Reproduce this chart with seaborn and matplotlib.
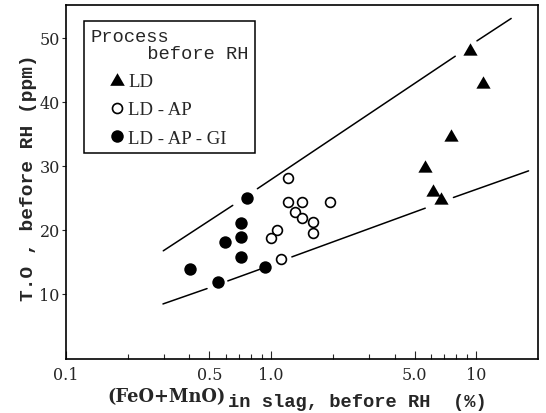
import numpy as np
import pandas as pd
import matplotlib
matplotlib.use("Agg")
import matplotlib.pyplot as plt
import seaborn as sns
from matplotlib.lines import Line2D
from matplotlib.legend_handler import HandlerLine2D
from matplotlib.font_manager import FontProperties

# ---------------- data ----------------
ld_x = [9.28, 10.73, 7.55, 5.60, 6.12, 6.73]
ld_y = [48.2, 43.1, 34.8, 30.0, 26.2, 25.0]
ldap_x = [1.215, 1.215, 1.411, 1.926, 1.309, 1.411, 1.609, 1.609, 1.066, 0.996, 1.115]
ldap_y = [28.0, 24.25, 24.4, 24.34, 22.8, 21.75, 21.2, 19.56, 19.97, 18.72, 15.4]
ldapgi_x = [0.766, 0.711, 0.711, 0.597, 0.711, 0.935, 0.403, 0.549]
ldapgi_y = [24.9, 21.1, 18.9, 18.0, 15.7, 14.1, 13.8, 11.85]

upper_seg_x = [[0.298, 0.650], [0.857, 7.90], [10.08, 14.8]]
upper_seg_y = [[16.7, 23.8], [26.4, 47.1], [49.5, 53.0]]
lower_seg_x = [[0.297, 0.487], [0.615, 0.884], [1.262, 5.64], [7.74, 17.99]]
lower_seg_y = [[8.4, 10.8], [12.0, 13.83], [15.75, 23.36], [25.03, 29.19]]

process_labels = ["LD", "LD - AP", "LD - AP - GI"]
legend_title = "Process\n     before RH"
x_major = [0.1, 0.5, 1.0, 5.0, 10]
x_major_labels = ["0.1", "0.5", "1.0", "5.0", "10"]
x_minor = [0.2, 0.3, 0.4, 0.6, 0.7, 0.8, 0.9, 2, 3, 4, 6, 7, 8, 9]
y_ticks = [10, 20, 30, 40, 50]
y_ticklabels = ["10", "20", "30", "40", "50"]
ylabel_text = "T.O , before RH (ppm)"
xlabel_main = "(FeO+MnO)"
xlabel_sub = "in slag, before RH  (%)"

# ---------------- style ----------------
sns.set_style("ticks")
plt.rcParams["font.family"] = ["DejaVu Serif"]

TRI = [(0, 0.5), (-0.577, -0.5), (0.577, -0.5)]

fig = plt.figure(figsize=(5.46, 4.14), dpi=100)
W, H = 546, 414
ax = fig.add_axes([66 / W, 1 - 360 / H, (538 - 66) / W, (360 - 6) / H])

# reference lines (broken around markers)
for xs, ys in zip(upper_seg_x, upper_seg_y):
    sns.lineplot(x=xs, y=ys, ax=ax, color="black", linewidth=1.1, estimator=None, sort=False)
for xs, ys in zip(lower_seg_x, lower_seg_y):
    sns.lineplot(x=xs, y=ys, ax=ax, color="black", linewidth=1.1, estimator=None, sort=False)

df_ld = pd.DataFrame({"x": ld_x, "y": ld_y})
df_ap = pd.DataFrame({"x": ldap_x, "y": ldap_y})
df_gi = pd.DataFrame({"x": ldapgi_x, "y": ldapgi_y})

sns.scatterplot(data=df_ld, x="x", y="y", ax=ax, marker=TRI, s=105,
                color="black", edgecolor="black", linewidth=0, zorder=5)
sns.scatterplot(data=df_ap, x="x", y="y", ax=ax, marker="o", s=50,
                color="white", edgecolor="black", linewidth=1.2, zorder=5)
sns.scatterplot(data=df_gi, x="x", y="y", ax=ax, marker="o", s=80,
                color="black", edgecolor="black", linewidth=0, zorder=5)

ax.set_xscale("log")
ax.set_xlim(0.1, 20)
ax.set_ylim(-0.2, 55.1)

ax.set_xticks(x_major)
ax.set_xticklabels(x_major_labels)
ax.set_xticks(x_minor, minor=True)
ax.set_xticklabels([], minor=True)
ax.set_yticks(y_ticks)
ax.set_yticklabels(y_ticklabels)
ax.tick_params(axis="x", which="major", direction="in", length=5.5, width=0.8,
               labelsize=11.5, pad=5)
ax.tick_params(axis="x", which="minor", direction="in", length=3.5, width=0.8)
ax.tick_params(axis="y", which="major", direction="out", length=3, width=0.8,
               labelsize=11.5, pad=1.5)
ax.tick_params(axis="y", which="minor", length=0)

for sp in ax.spines.values():
    sp.set_linewidth(1.2)
    sp.set_color("black")

ax.set_xlabel("")
ax.set_ylabel(ylabel_text, fontfamily="Liberation Mono", fontweight="bold", fontsize=14)
ax.yaxis.set_label_coords(-0.062, 0.514)

fig.text(107 / W, 1 - 402.5 / H, xlabel_main, fontfamily="DejaVu Serif",
         fontweight="bold", fontsize=12.8, ha="left", va="baseline")
fig.text(228 / W, 1 - 407 / H, xlabel_sub, fontfamily="Liberation Mono",
         fontweight="bold", fontsize=13.5, ha="left", va="baseline")

# legend
handles = [
    Line2D([], [], linestyle="none", marker=TRI, markersize=10.5,
           markerfacecolor="black", markeredgecolor="black", markeredgewidth=0),
    Line2D([], [], linestyle="none", marker="o", markersize=7.2,
           markerfacecolor="white", markeredgecolor="black", markeredgewidth=1.2),
    Line2D([], [], linestyle="none", marker="o", markersize=9,
           markerfacecolor="black", markeredgecolor="black", markeredgewidth=0),
]
leg = ax.legend(handles, process_labels, title=legend_title,
                loc="upper left", bbox_to_anchor=((84 - 66) / 472, (360 - 22) / 354),
                borderaxespad=0, frameon=True, fancybox=False, framealpha=1,
                edgecolor="black", prop=FontProperties(family="Liberation Serif", size=13.5),
                title_fontproperties=FontProperties(family="Liberation Mono", size=13.5),
                alignment="left", handlelength=1.8, handletextpad=0.2,
                labelspacing=0.6, borderpad=0.35,
                handler_map={Line2D: HandlerLine2D(xpad=0.97)})
leg.get_frame().set_linewidth(1.1)
leg.get_title().set_linespacing(1.0)
leg.set_zorder(10)

fig.savefig("out.png", dpi=100)
